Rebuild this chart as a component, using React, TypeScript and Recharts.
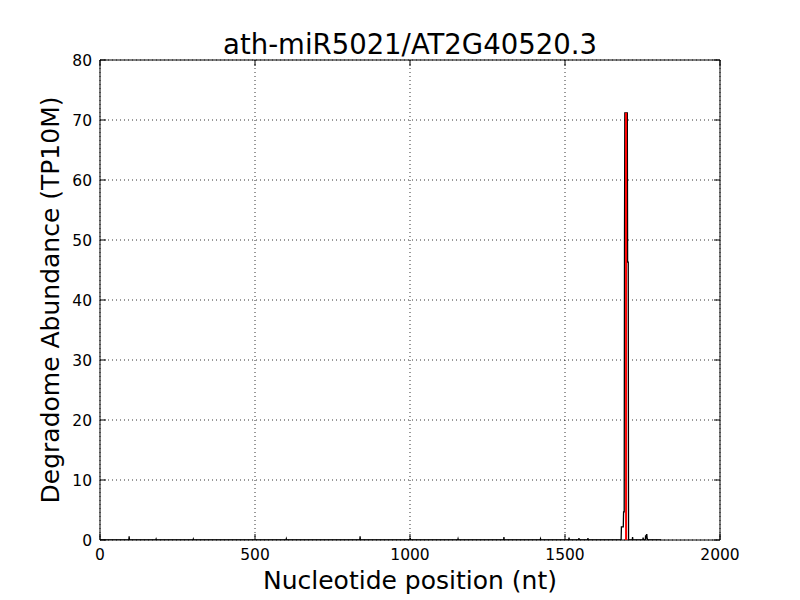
import React from 'react';
import { LineChart, Line, XAxis, YAxis, CartesianGrid, ReferenceArea } from 'recharts';

// degradome profile along the transcript (nt position, TP10M)
const positions = [
  0, 93, 94, 95, 180, 181, 182, 300, 301, 302, 600, 601, 602, 838, 839, 840,
  1000, 1001, 1002, 1154, 1155, 1156, 1302, 1303, 1304, 1420, 1421, 1422,
  1512, 1513, 1514, 1544, 1545, 1546, 1573, 1574, 1575, 1681, 1682, 1688, 1689,
  1691, 1692, 1693, 1701, 1702, 1704, 1705, 1717, 1718, 1719, 1751, 1752, 1753,
  1759, 1760, 1761, 1762, 1763, 1764, 1765, 1766, 1810,
];
const abundance = [
  0, 0, 0.6, 0, 0, 0.15, 0, 0, 0.15, 0, 0, 0.2, 0, 0, 0.6, 0,
  0, 0.3, 0, 0, 0.2, 0, 0, 0.5, 0, 0, 0.2, 0,
  0, 0.4, 0, 0, 0.3, 0, 0, 0.3, 0, 0, 2.2, 2.2, 4.7,
  4.7, 51.5, 71.2, 71.2, 46.3, 46.3, 0, 0, 0.5, 0, 0, 0.4, 0,
  0, 0.8, 0.3, 0.3, 0.9, 0.9, 0.3, 0, 0,
];

// miRNA target site (red marker)
const targetPosition = [1697, 1697];
const targetAbundance = [0, 71.2];

const xTicks = [0, 500, 1000, 1500, 2000];
const yTicks = [0, 10, 20, 30, 40, 50, 60, 70, 80];

const profile = positions.map((p, i) => ({ pos: p, value: abundance[i] }));
const target = targetPosition.map((p, i) => ({ pos: p, value: targetAbundance[i] }));

const FONT = '"DejaVu Sans", sans-serif';
const TOP = 60;
const BOTTOM = 540;
const LEFT = 100;
const RIGHT = 720;

const XTick = ({ x, payload }: any) => (
  <g>
    <line x1={x} x2={x} y1={BOTTOM} y2={BOTTOM - 6} stroke="#000" />
    <line x1={x} x2={x} y1={TOP} y2={TOP + 6} stroke="#000" />
    <text x={x} y={BOTTOM + 19.5} textAnchor="middle" fontSize={15.5} fontFamily={FONT} fill="#000">
      {payload.value}
    </text>
  </g>
);

const YTick = ({ y, payload }: any) => (
  <g>
    <line x1={LEFT} x2={LEFT + 6} y1={y} y2={y} stroke="#000" />
    <line x1={RIGHT} x2={RIGHT - 6} y1={y} y2={y} stroke="#000" />
    <text x={LEFT - 8} y={y + 5.5} textAnchor="end" fontSize={15.5} fontFamily={FONT} fill="#000">
      {payload.value}
    </text>
  </g>
);

export default function App() {
  return (
    <div style={{ position: 'absolute', left: 0, top: 0, width: 800, height: 600, background: '#fff' }}>
      <svg width={800} height={600} style={{ position: 'absolute', left: 0, top: 0 }}>
        <text x={410} y={54} textAnchor="middle" fontSize={27.5} fontFamily={FONT} fill="#000">
          ath-miR5021/AT2G40520.3
        </text>
        <text x={410} y={589} textAnchor="middle" fontSize={25} fontFamily={FONT} fill="#000">
          Nucleotide position (nt)
        </text>
        <text
          x={0}
          y={0}
          transform="translate(59,300) rotate(-90)"
          textAnchor="middle"
          fontSize={25}
          fontFamily={FONT}
          fill="#000"
        >
          Degradome Abundance (TP10M)
        </text>
      </svg>
      <div style={{ position: 'absolute', left: 0, top: 0 }}>
        <LineChart width={800} height={600} data={profile} margin={{ top: 60, right: 80, bottom: 0, left: 0 }}>
          <CartesianGrid stroke="#000" strokeDasharray="1 3" strokeWidth={0.8} />
          <XAxis
            dataKey="pos"
            type="number"
            domain={[0, 2000]}
            ticks={xTicks}
            height={60}
            axisLine={false}
            tickLine={false}
            tick={<XTick />}
            allowDataOverflow
          />
          <YAxis
            type="number"
            domain={[0, 80]}
            ticks={yTicks}
            width={100}
            axisLine={false}
            tickLine={false}
            tick={<YTick />}
            allowDataOverflow
          />
          <Line
            type="linear"
            dataKey="value"
            data={profile}
            stroke="#000"
            strokeWidth={1.3}
            dot={false}
            isAnimationActive={false}
          />
          <Line
            type="linear"
            dataKey="value"
            data={target}
            stroke="#ff0000"
            strokeWidth={2}
            dot={false}
            isAnimationActive={false}
          />
          <ReferenceArea x1={0} x2={2000} y1={0} y2={80} fill="none" stroke="#000" strokeWidth={1} ifOverflow="visible" />
        </LineChart>
      </div>
    </div>
  );
}
